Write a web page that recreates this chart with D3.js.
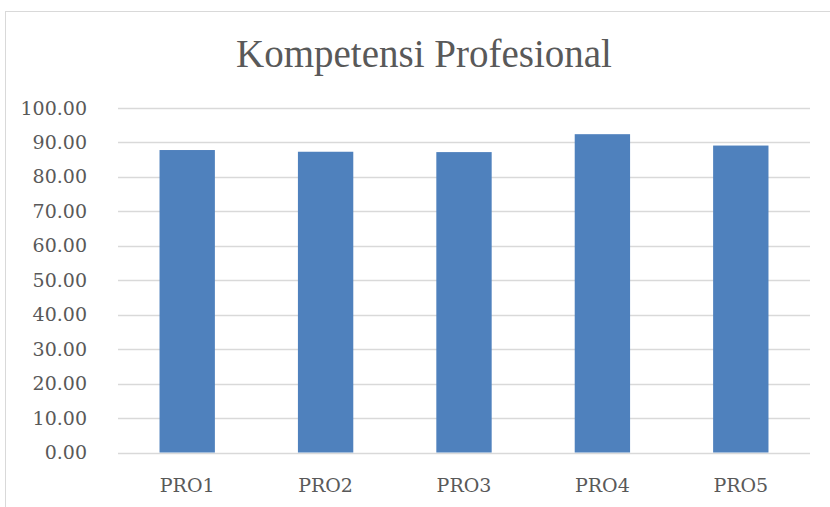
<!DOCTYPE html>
<html>
<head>
<meta charset="utf-8">
<script src="https://cdn.jsdelivr.net/npm/d3@7"></script>
<style>
  body { margin: 0; background: #fff; }
  #chart { width: 830px; height: 507px; }
  text { font-family: "DejaVu Serif", serif; fill: #595959; }
</style>
</head>
<body>
<div id="chart"></div>
<script>
const categories = ["PRO1", "PRO2", "PRO3", "PRO4", "PRO5"];
const values = [87.8, 87.3, 87.2, 92.4, 89.1];
const yTicks = [0, 10, 20, 30, 40, 50, 60, 70, 80, 90, 100];
const title = "Kompetensi Profesional";

const W = 830, H = 507;
const margin = {t: 108, r: 20, b: 54.5, l: 118};

const svg = d3.select("#chart").append("svg")
	.attr("width", W)
	.attr("height", H);

// chart area border
svg.append("rect")
	.attr("x", 5.5).attr("y", 11.5)
	.attr("width", W + 10).attr("height", H + 10)
	.attr("fill", "none")
	.attr("stroke", "#d9d9d9");

const x = d3.scaleBand()
	.domain(categories)
	.range([margin.l, W - margin.r])
	.paddingInner(0.6)
	.paddingOuter(0.3);

const y = d3.scaleLinear()
	.domain([0, 100])
	.range([H - margin.b, margin.t]);

// grid
svg.append("g")
	.selectAll("line")
	.data(yTicks)
	.enter()
	.append("line")
	.attr("x1", margin.l)
	.attr("x2", W - margin.r)
	.attr("y1", d => Math.round(y(d)) + 0.5)
	.attr("y2", d => Math.round(y(d)) + 0.5)
	.attr("stroke", "#d9d9d9")
	.attr("stroke-width", 1.5);

// y labels
const yAxis = svg.append("g")
	.attr("transform", `translate(${margin.l - 31},0)`)
	.call(d3.axisLeft(y).tickValues(yTicks).tickFormat(d3.format(".2f")).tickSize(0).tickPadding(0));
yAxis.select(".domain").remove();
yAxis.selectAll("text")
	.style("font-family", "DejaVu Serif")
	.style("font-size", "19px")
	.attr("fill", "#595959");

// bars
svg.selectAll(".bar")
	.data(values)
	.enter()
	.append("rect")
	.attr("class", "bar")
	.attr("x", (d, i) => x(categories[i]))
	.attr("y", d => y(d))
	.attr("width", x.bandwidth())
	.attr("height", d => y(0) - y(d))
	.attr("fill", "#4f81bd");

// x labels
svg.selectAll(".xlab")
	.data(categories)
	.enter()
	.append("text")
	.attr("class", "xlab")
	.attr("x", d => x(d) + x.bandwidth() / 2)
	.attr("y", 492)
	.attr("text-anchor", "middle")
	.style("font-size", "19px")
	.text(d => d);

// title
svg.append("text")
	.attr("x", 424)
	.attr("y", 67)
	.attr("text-anchor", "middle")
	.style("font-family", "Liberation Serif")
	.style("font-size", "39px")
	.text(title);
</script>
</body>
</html>
